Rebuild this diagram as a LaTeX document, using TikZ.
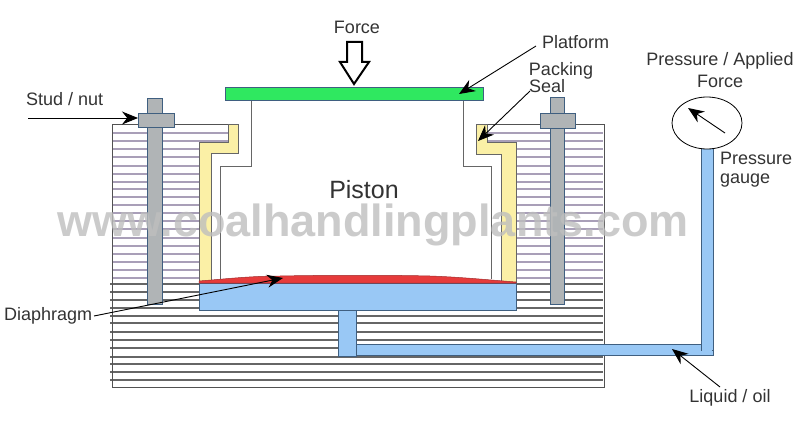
\documentclass[tikz,border=0pt]{standalone}
\usepackage{fontspec}
\setmainfont{Liberation Sans}
\usetikzlibrary{arrows.meta}
\definecolor{labelc}{HTML}{333333}
\definecolor{hatchl}{HTML}{A99FB8}
\definecolor{hatchd}{HTML}{666666}
\definecolor{edgec}{HTML}{3F5F80}
\definecolor{oil}{HTML}{99C8F5}
\definecolor{seal}{HTML}{FBF0A6}
\definecolor{steel}{HTML}{B0B4B6}
\definecolor{plat}{HTML}{2FE860}
\definecolor{diap}{HTML}{E63B3B}
\definecolor{wmark}{HTML}{BEBEBE}
\tikzset{
  lbl/.style={text=labelc,font=\fontsize{18}{18}\selectfont,inner sep=0pt},
  ptr/.style={draw=black,line width=0.9pt,-{Stealth[length=16pt,width=13pt]}},
  oilbox/.style={fill=oil,draw=edgec,line width=0.9pt},
  steelbox/.style={fill=steel,draw=edgec,line width=0.9pt},
  sealbox/.style={fill=seal,draw=hatchd,line width=0.9pt},
  pistonline/.style={draw=hatchd,line width=1pt},
}
\begin{document}
\begin{tikzpicture}[x=1pt,y=-1pt]
\useasboundingbox (0,0) rectangle (800,428);
% body hatching
\foreach \y in {133,141,149,157,166,174,182,189,197,205,213,221,229,238,246,254,262,270,278}
  \draw[hatchl,line width=1.1pt] (113,\y) -- (603,\y);
\foreach \y in {284,292,300,308,316,323,332,340,348,357,364,372,380}
  \draw[hatchd,line width=1.1pt] (110,\y) -- (603,\y);
% piston space
\fill[white] (199,143) rectangle (516,283);
\fill[white] (228,120) rectangle (487,143);
% body outline
\draw[hatchd!80!black,line width=1pt] (228,124) -- (112,124) -- (112,387) -- (604,387) -- (604,124) -- (487,124);
% seals
\path[sealbox] (228,124) -- (238,124) -- (238,153) -- (211,153) -- (211,283) -- (199,283) -- (199,142) -- (228,142) -- cycle;
\path[sealbox] (476,124) -- (487,124) -- (487,142) -- (516,142) -- (516,283) -- (501,283) -- (501,154) -- (476,154) -- cycle;
% piston
\draw[pistonline] (251,100) -- (251,166) -- (220,166) -- (220,279);
\draw[pistonline] (463,100) -- (463,166) -- (491,166) -- (491,279);
% studs
\path[steelbox] (147,98) rectangle (162,304);
\path[steelbox] (550,97) rectangle (564,304);
\path[steelbox] (138,113) rectangle (174,127);
\path[steelbox] (540,113) rectangle (575,128);
% chamber, pipe
\path[oilbox] (199,283) rectangle (516,310);
\path[fill=diap,draw=diap!70!black,line width=0.5pt] (199,281) .. controls (225,279) and (250,276) .. (280,276) .. controls (330,275) and (390,275) .. (430,276) .. controls (460,277) and (490,280) .. (516,282) -- (516,283) -- (199,283) -- cycle;
\path[oilbox] (356,344) rectangle (713,355);
\path[oilbox] (701,148) rectangle (713,350);
\fill[oil] (702,340) rectangle (712,354);
\path[oilbox] (338,310) rectangle (356,356);
% platform
\node[fill=plat,draw=edgec,line width=0.9pt,minimum width=258pt,minimum height=12.5pt,inner sep=0pt,anchor=north west] (platform) at (225,87) {};
% gauge
\draw[black,line width=0.8pt,fill=white] (707,123) ellipse [x radius=35,y radius=26];
\coordinate (needleA) at (725,133);
\coordinate (needleB) at (688,108);
\draw[ptr] (needleA) -- (needleB);
% force arrow
\path[draw=black,fill=white,line width=2pt] (347,42) -- (362,42) -- (362,62) -- (369,62) -- (354,84) -- (340,62) -- (347,62) -- cycle;
% labels
\node[lbl] (force) at (357,27) {Force};
\node[lbl,anchor=west] (platlbl) at (542,42) {Platform};
\node[lbl] (packing) at (561,71) {Packing};
\node[lbl,anchor=west] (seallbl) at (529,86) {Seal};
\node[lbl] (pal) at (720,61) {Pressure / Applied};
\node[lbl] (pal2) at (720,81) {Force};
\node[lbl,anchor=west] (pg) at (720,158) {Pressure};
\node[lbl,anchor=west] (pg2) at (720,181) {gauge};
\node[lbl,anchor=west] (stud) at (26,99) {Stud / nut};
\node[lbl,anchor=west] (diaphragm) at (4,316) {Diaphragm};
\node[lbl] (liquid) at (730,398) {Liquid / oil};
\node[lbl,font=\fontsize{25}{25}\selectfont] (piston) at (364,190) {Piston};
% pointers
\coordinate (tipPlat) at (459,94);
\coordinate (tailPlat) at (536,46);
\coordinate (tipSeal) at (478,141);
\coordinate (tailSeal) at (530,91);
\coordinate (tailStud) at (28,118);
\coordinate (tipStud) at (138,118);
\coordinate (tailDia) at (94,316);
\coordinate (tipDia) at (283,278);
\coordinate (tailLiq) at (720,387);
\coordinate (tipLiq) at (672,349);
\draw[ptr] (tailPlat) -- (tipPlat);
\draw[ptr] (tailSeal) -- (tipSeal);
\draw[ptr] (tailStud) -- (tipStud);
\draw[ptr] (tailDia) -- (tipDia);
\draw[ptr] (tailLiq) -- (tipLiq);
% watermark
\node[text=wmark,opacity=0.8,inner sep=0pt,font=\fontsize{45}{45}\selectfont\bfseries] (wm) at (373,225) {www.coalhandlingplants.com};
\end{tikzpicture}
\end{document}
